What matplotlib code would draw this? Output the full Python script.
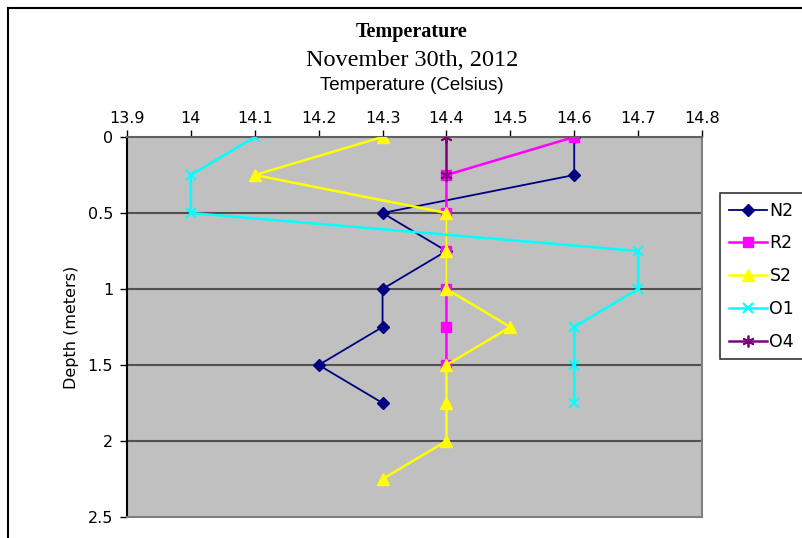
import numpy as np
import matplotlib.pyplot as plt
from matplotlib.lines import Line2D

# Profundidades (m) e temperaturas por estação
depth = [0, 0.25, 0.5, 0.75, 1, 1.25, 1.5, 1.75, 2, 2.25]

n2 = [14.6, 14.6, 14.3, 14.4, 14.3, 14.3, 14.2, 14.3]
r2 = [14.6, 14.4, 14.4, 14.4, 14.4, 14.4, 14.4]
s2 = [14.3, 14.1, 14.4, 14.4, 14.4, 14.5, 14.4, 14.4, 14.4, 14.3]
o1 = [14.1, 14.0, 14.0, 14.7, 14.7, 14.6, 14.6, 14.6]
o4 = [14.4, 14.4]

xticks = [13.9, 14.0, 14.1, 14.2, 14.3, 14.4, 14.5, 14.6, 14.7, 14.8]
yticks = [0, 0.5, 1, 1.5, 2, 2.5]

fig = plt.figure(figsize=(8.02, 5.38), dpi=100)
ax = fig.add_axes([127 / 802, 1 - 517 / 538, 575 / 802, 380 / 538])
ax.set_facecolor('#c0c0c0')

ax.plot(n2, depth[:len(n2)], color='#000080', lw=1.3, marker='D', ms=6.5, label='N2', zorder=3)
ax.plot(r2, depth[:len(r2)], color='#ff00ff', lw=1.8, marker='s', ms=7.5, label='R2', zorder=4)
ax.plot(s2, depth[:len(s2)], color='#ffff00', lw=1.8, marker='^', ms=9, label='S2', zorder=5)
ax.plot(o1, depth[:len(o1)], color='#00ffff', lw=1.8, marker='x', ms=7.5, mew=1.5, label='O1', zorder=6)
ax.plot(o4, depth[:len(o4)], color='#800080', lw=1.8, marker=(6, 2, 0), ms=8.5, mew=1.3, label='O4', zorder=7)

ax.set_xlim(13.9, 14.8)
ax.set_ylim(2.5, 0)
ax.set_xticks(xticks)
ax.set_yticks(yticks)
ax.xaxis.set_major_formatter(plt.FormatStrFormatter('%g'))
ax.yaxis.set_major_formatter(plt.FormatStrFormatter('%g'))
ax.xaxis.tick_top()
ax.tick_params(axis='both', labelsize=11.5, length=5, width=1, direction='out', pad=5, colors='black')
ax.tick_params(axis='x', pad=3)

for yv in yticks[1:-1]:
    ax.axhline(yv, color='#505050', lw=1.5, zorder=1)

ax.spines['left'].set_color('black')
ax.spines['top'].set_color('#606060')
ax.spines['right'].set_color('#808080')
ax.spines['bottom'].set_color('#808080')
for s in ax.spines.values():
    s.set_linewidth(1.5)

ax.set_ylabel('Depth (meters)', fontsize=11.5, labelpad=6)

fig.text(412 / 802, 1 - 32 / 538, 'Temperature', ha='center', va='center',
         fontsize=14.5, fontweight='bold', family='Liberation Serif')
fig.text(412 / 802, 1 - 60 / 538, 'November 30th, 2012', ha='center', va='center',
         fontsize=17.5, family='Liberation Serif')
fig.text(412 / 802, 1 - 86 / 538, 'Temperature (Celsius)', ha='center', va='center',
         fontsize=13.5, family='Liberation Sans')

# bordas do recorte
fig.add_artist(Line2D([8 / 802, 8 / 802], [0, 1 - 8 / 538], color='black', lw=1.5))
fig.add_artist(Line2D([8 / 802, 1], [1 - 8 / 538, 1 - 8 / 538], color='black', lw=1.5))

leg = fig.legend(loc='upper left', bbox_to_anchor=(720 / 802, 1 - 193 / 538),
                 fontsize=12.5, frameon=True, fancybox=False, edgecolor='black',
                 handlelength=2.2, labelspacing=0.85, borderaxespad=0, borderpad=0.5,
                 handletextpad=0.15)
leg.get_frame().set_linewidth(1.2)

plt.savefig('out.png', dpi=100)
